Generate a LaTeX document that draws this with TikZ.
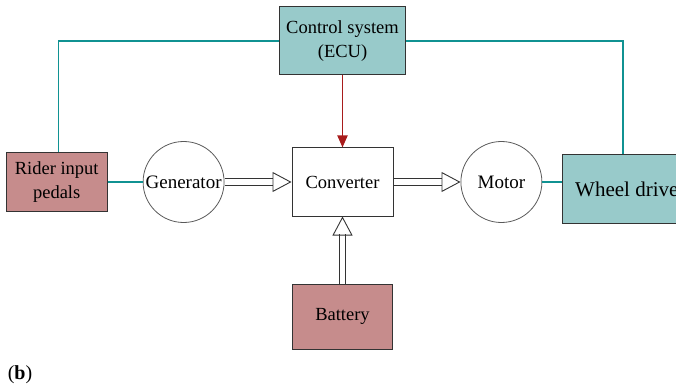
\documentclass[tikz,border=0pt]{standalone}
\usepackage{fontspec}
\setmainfont{Liberation Serif}
\usepackage{xcolor}
\usetikzlibrary{arrows.meta,positioning}

\definecolor{tealfill}{RGB}{152,202,202}
\definecolor{rosefill}{RGB}{198,140,140}
\definecolor{tealline}{RGB}{16,146,146}
\definecolor{ctrlred}{RGB}{168,28,28}

\begin{document}
\begin{tikzpicture}[
  x=1pt, y=-1pt,
  node distance=67pt,
  box/.style={draw=black!80, line width=1pt, align=center, inner sep=0pt, font=\fontsize{18.5}{24}\selectfont},
  tealbox/.style={box, fill=tealfill},
  rosebox/.style={box, fill=rosefill},
  unit/.style={draw=black!65, line width=0.8pt, circle, inner sep=0pt, minimum size=81pt, font=\fontsize{19}{24}\selectfont},
  link/.style={draw=tealline, line width=1.4pt},
  rail/.style={draw=black!80, line width=0.9pt},
  head/.style={draw=white, line width=0.9pt, -{Triangle[open, length=19pt, width=20pt, color=black!80]}},
  ctrlarrow/.style={draw=ctrlred, line width=1.8pt, -{Triangle[length=12pt, width=10pt]}}
]
\useasboundingbox (0,0) rectangle (676,387);

\node[box, minimum width=101pt, minimum height=68pt] (conv) at (342.5,182) {Converter};
\node[unit, left=of conv] (gen) {Generator};
\node[rosebox, minimum width=101pt, minimum height=58pt, left=35pt of gen] (rider) {Rider input\\pedals};
\node[unit, right=of conv] (motor) {Motor};
\node[tealbox, minimum width=128pt, minimum height=68pt, right=20pt of motor, yshift=-7pt,
  font=\fontsize{21}{24}\selectfont] (wheel) {Wheel drive};
\node[tealbox, minimum width=126pt, minimum height=68pt, above=72pt of conv] (ctrl) {Control system\\(ECU)};
\node[rosebox, minimum width=100pt, minimum height=65pt, below=of conv] (batt) {Battery};

% signal lines
\draw[link] ([xshift=2pt]rider.north) |- (ctrl.west);
\draw[link] (ctrl.east) -| ([xshift=-4pt]wheel.north);
\draw[link] (rider.east |- gen) -- (gen.west);
\draw[link] (motor.east) -- (motor -| wheel.west);
\draw[ctrlarrow] (ctrl.south) -- (conv.north);

% power flow
\draw[rail] ([yshift=3.6pt]gen.east) -- ([yshift=3.6pt, xshift=-19pt]conv.west);
\draw[rail] ([yshift=-3.6pt]gen.east) -- ([yshift=-3.6pt, xshift=-19pt]conv.west);
\draw[head] ([xshift=-24pt]conv.west) -- (conv.west);
\draw[rail] ([yshift=3.6pt]conv.east) -- ([yshift=3.6pt, xshift=-19pt]motor.west);
\draw[rail] ([yshift=-3.6pt]conv.east) -- ([yshift=-3.6pt, xshift=-19pt]motor.west);
\draw[head] ([xshift=-24pt]motor.west) -- (motor.west);
\draw[rail] ([xshift=3.3pt]batt.north) -- ([xshift=3.3pt, yshift=-17pt]conv.south);
\draw[rail] ([xshift=-3.3pt]batt.north) -- ([xshift=-3.3pt, yshift=-17pt]conv.south);
\draw[head] ([yshift=-22pt]conv.south) -- (conv.south);

\node[font=\fontsize{20}{22}\selectfont] (tag) at (20,375) {(\textbf{b})};
\end{tikzpicture}
\end{document}
